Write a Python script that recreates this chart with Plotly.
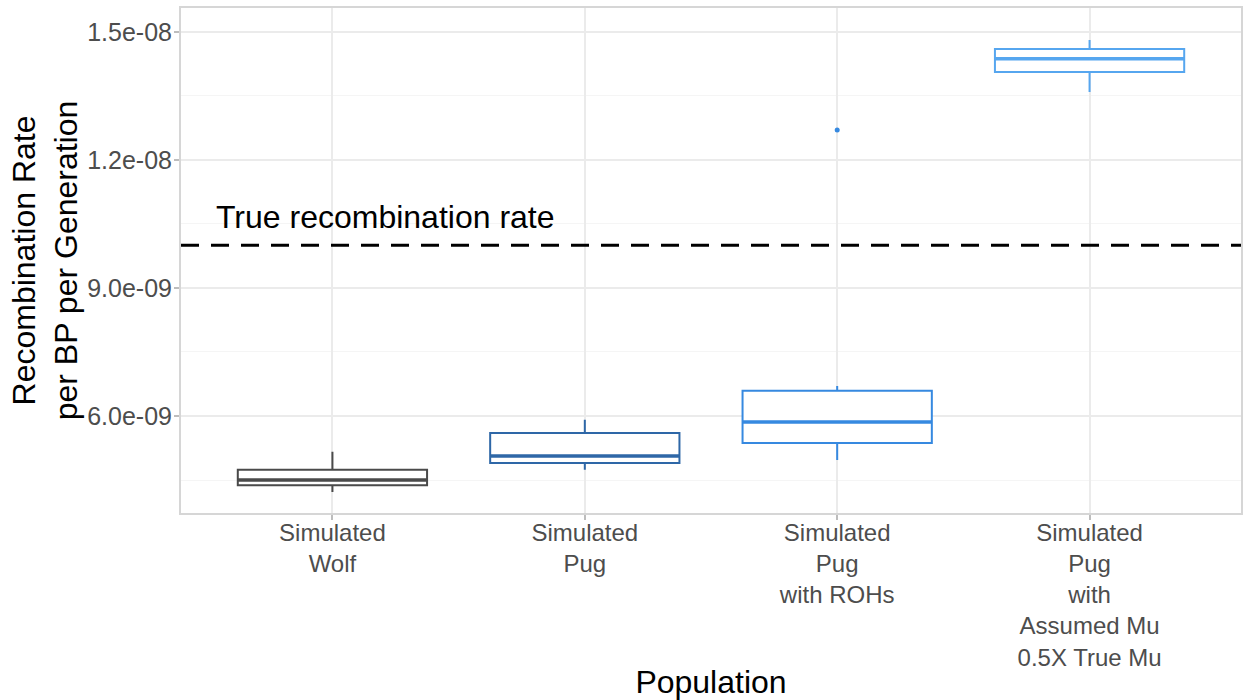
import plotly.graph_objects as go

# ---- data ----
categories = ["Simulated<br>Wolf", "Simulated<br>Pug", "Simulated<br>Pug<br>with ROHs",
              "Simulated<br>Pug<br>with<br>Assumed Mu<br>0.5X True Mu"]
lower_whisker = [4.22e-9, 4.74e-9, 4.97e-9, 13.59e-9]
q1_values = [4.38e-9, 4.90e-9, 5.37e-9, 14.06e-9]
medians = [4.50e-9, 5.06e-9, 5.86e-9, 14.37e-9]
q3_values = [4.74e-9, 5.60e-9, 6.59e-9, 14.60e-9]
upper_whisker = [5.16e-9, 5.91e-9, 6.70e-9, 14.81e-9]
outlier_group = [2]
outlier_values = [12.70e-9]
true_rate = 1.0e-8
y_ticks = [6.0e-9, 9.0e-9, 1.2e-8, 1.5e-8]
y_tick_labels = ["6.0e-09", "9.0e-09", "1.2e-08", "1.5e-08"]

colors = ["#4a4a4a", "#2e67a7", "#3689e0", "#56a6ef"]
FONT = "Liberation Sans, Arial, Helvetica, sans-serif"
BOX_WIDTH = 0.75

fig = go.Figure()
for i in range(len(categories)):
    fig.add_trace(go.Box(
        x=[i], q1=[q1_values[i]], median=[medians[i]], q3=[q3_values[i]],
        lowerfence=[lower_whisker[i]], upperfence=[upper_whisker[i]],
        width=BOX_WIDTH, whiskerwidth=0, fillcolor="white",
        line=dict(color=colors[i], width=2), boxpoints=False,
        showlegend=False, hoverinfo="skip",
    ))
    # ggplot draws the median thicker than the box outline
    fig.add_trace(go.Scatter(
        x=[i - BOX_WIDTH / 2, i + BOX_WIDTH / 2], y=[medians[i], medians[i]],
        mode="lines", line=dict(color=colors[i], width=3.5),
        showlegend=False, hoverinfo="skip",
    ))

fig.add_trace(go.Scatter(
    x=outlier_group, y=outlier_values, mode="markers",
    marker=dict(color=colors[2], size=5), showlegend=False, hoverinfo="skip",
))

fig.add_shape(type="line", xref="x domain", x0=0, x1=1, yref="y", y0=true_rate, y1=true_rate,
              line=dict(color="black", width=3, dash="18px,12px"))
fig.add_annotation(x=-0.47, y=true_rate, xref="x", yref="y", yshift=28,
                   text="True recombination rate", showarrow=False,
                   xanchor="left", yanchor="middle",
                   font=dict(family=FONT, size=32, color="black"))

fig.update_layout(
    width=1244, height=700,
    margin=dict(l=181, r=3, t=8, b=187),
    paper_bgcolor="white", plot_bgcolor="white",
    font=dict(family=FONT),
)
fig.update_xaxes(
    range=[-0.6, 3.6], tickvals=list(range(len(categories))), ticktext=categories,
    tickfont=dict(size=24, color="#4d4d4d"), automargin=False, ticklabelstandoff=-8,
    showgrid=True, gridcolor="#ebebeb", gridwidth=1.5,
    zeroline=False, showline=True, mirror=True, linecolor="#d6d6d6", linewidth=2,
    ticks="outside", ticklen=5, tickcolor="#bdbdbd", tickwidth=1.5,
    title=dict(text="Population", font=dict(size=32, color="black"), standoff=6),
)
fig.update_yaxes(
    range=[3.727e-9, 1.556e-8], tickvals=y_ticks, ticktext=y_tick_labels,
    tickfont=dict(size=25, color="#4d4d4d"), automargin=False, ticklabelstandoff=-3,
    showgrid=True, gridcolor="#ebebeb", gridwidth=1.5,
    minor=dict(tick0=4.5e-9, dtick=3e-9, showgrid=True, gridcolor="#f5f5f5", gridwidth=1),
    zeroline=False, showline=True, mirror=True, linecolor="#d6d6d6", linewidth=2,
    ticks="outside", ticklen=5, tickcolor="#bdbdbd", tickwidth=1.5,
    title=dict(text="Recombination Rate<br>per BP per Generation",
               font=dict(size=32, color="black"), standoff=0),
)

fig.write_html("out.html")
